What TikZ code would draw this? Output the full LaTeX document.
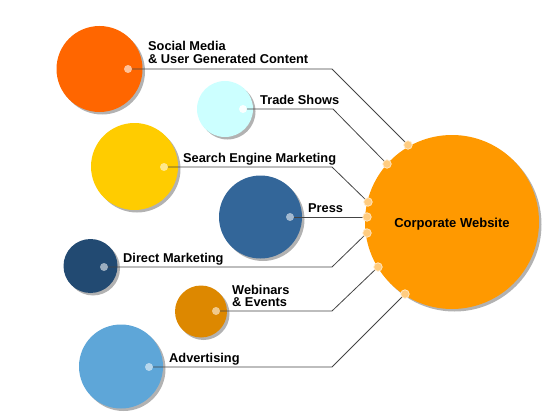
\documentclass[tikz,border=0pt]{standalone}
\usepackage{fontspec}
\setmainfont{Liberation Sans}
\usetikzlibrary{shadows}
\pgfdeclarelayer{circ}
\pgfdeclarelayer{lines}
\pgfsetlayers{circ,lines,main}
\definecolor{cSocial}{HTML}{FF6600}
\definecolor{cTrade}{HTML}{CCFFFF}
\definecolor{cSEM}{HTML}{FFCC00}
\definecolor{cPress}{HTML}{336699}
\definecolor{cDirect}{HTML}{224A72}
\definecolor{cWeb}{HTML}{DD8800}
\definecolor{cAdv}{HTML}{5EA6D8}
\definecolor{cCorp}{HTML}{FF9900}
\definecolor{cLine}{HTML}{444444}
\tikzset{
  bubble/.style={circle, inner sep=0pt, minimum size=#1, draw=none,
    drop shadow={shadow xshift=2.5pt, shadow yshift=-2.5pt, opacity=0.3, fill=black}},
  hub/.style={circle, inner sep=0pt, minimum size=8pt, draw=none},
  rimhub/.style={circle, inner sep=0pt, minimum size=8.5pt, draw=white!80!cCorp, line width=0.7pt, fill=cCorp!50!white},
  lbl/.style={anchor=base west, inner sep=0pt, font=\bfseries\fontsize{12.8}{14}\selectfont, text=black},
  link/.style={draw=cLine, line width=0.8pt}
}
\begin{document}
\begin{tikzpicture}[x=1pt,y=-1pt]
\useasboundingbox (0,0) rectangle (560,420);
\begin{pgfonlayer}{circ}
\node[bubble=86pt, fill=cSocial] (social) at (99.5,69) {};
\node[bubble=56pt, fill=cTrade] (trade) at (225,109) {};
\node[bubble=87pt, fill=cSEM] (sem) at (134.5,166.5) {};
\node[bubble=83pt, fill=cPress] (press) at (260.5,217) {};
\node[bubble=54pt, fill=cDirect] (direct) at (90.5,266) {};
\node[bubble=52pt, fill=cWeb] (web) at (201,311.5) {};
\node[bubble=84pt, fill=cAdv] (adv) at (121,366.5) {};
\node[bubble=174pt, fill=cCorp] (corp) at (452,222) {};
\end{pgfonlayer}
\node[font=\bfseries\fontsize{13}{15}\selectfont] (corptxt) at (452,224) {Corporate Website};
% dots on small circles
\node[hub, fill=cSocial!40!white] (d1) at (128,69) {};
\node[hub, fill=white!90!cTrade] (d2) at (243,109) {};
\node[hub, fill=cSEM!45!white] (d3) at (164,167) {};
\node[hub, fill=cPress!45!white] (d4) at (290,217) {};
\node[hub, fill=cDirect!45!white] (d5) at (104,267) {};
\node[hub, fill=cWeb!45!white] (d6) at (216,311) {};
\node[hub, fill=cAdv!45!white] (d7) at (149,367) {};
% dots on corporate circle
\node[rimhub] (e1) at (408,145) {};
\node[rimhub] (e2) at (387,164) {};
\node[rimhub] (e3) at (368,202) {};
\node[rimhub] (e4) at (367,217) {};
\node[rimhub] (e5) at (367,233) {};
\node[rimhub] (e6) at (378,267) {};
\node[rimhub] (e7) at (405,294) {};
% bend points
\coordinate (k1) at (332,69);
\coordinate (k2) at (333,109);
\coordinate (k3) at (332,167);
\coordinate (k5) at (332,267);
\coordinate (k6) at (332,311);
\coordinate (k7) at (332,367);
\begin{pgfonlayer}{lines}
\draw[link] (d1.center) -- (k1) -- (e1.center);
\draw[link] (d2.center) -- (k2) -- (e2.center);
\draw[link] (d3.center) -- (k3) -- (e3.center);
\draw[link] (d4.center) -- (e4.center);
\draw[link] (d5.center) -- (k5) -- (e5.center);
\draw[link] (d6.center) -- (k6) -- (e6.center);
\draw[link] (d7.center) -- (k7) -- (e7.center);
\end{pgfonlayer}
% labels
\node[lbl] (l1a) at (148,50.5) {Social Media};
\node[lbl] (l1b) at (148,63.2) {\& User Generated Content};
\node[lbl] (l2) at (260,104) {Trade Shows};
\node[lbl] (l3) at (183,162) {Search Engine Marketing};
\node[lbl] (l4) at (308,212) {Press};
\node[lbl] (l5) at (123,262) {Direct Marketing};
\node[lbl] (l6a) at (232,294) {Webinars};
\node[lbl] (l6b) at (232,306) {\& Events};
\node[lbl] (l7) at (169,362) {Advertising};
\end{tikzpicture}
\end{document}
